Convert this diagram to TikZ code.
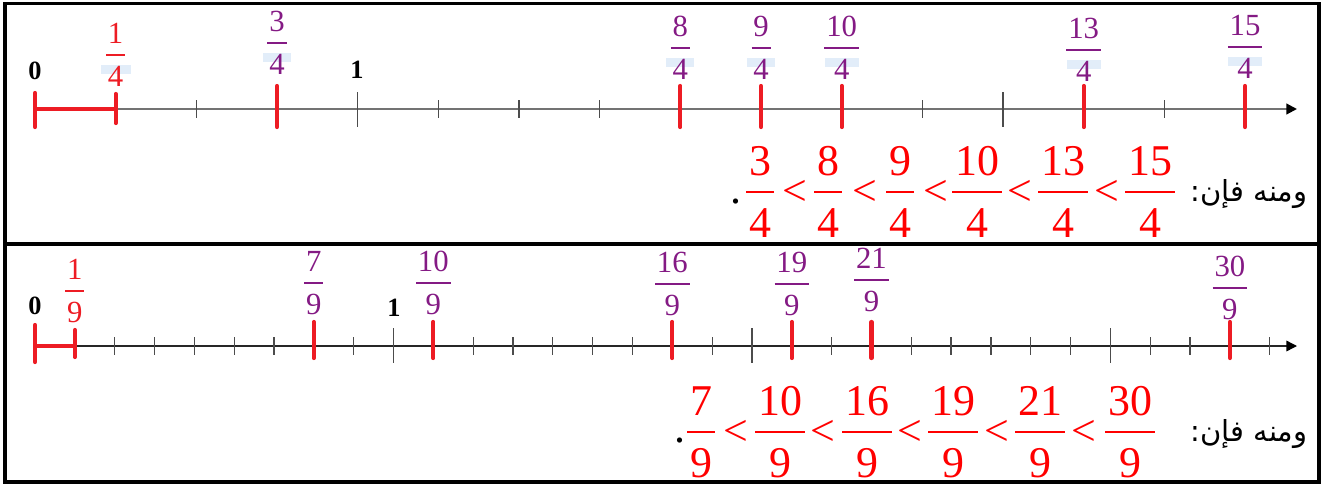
\documentclass[tikz,border=0pt]{standalone}
\usepackage{fontspec}
\setmainfont{Liberation Serif}
\newfontfamily\arabicfont[Script=Arabic]{DejaVu Sans}
\TeXXeTstate=1
\usetikzlibrary{arrows.meta, positioning}
\definecolor{cred}{HTML}{ED1C24}
\definecolor{cpurple}{HTML}{841A84}
\definecolor{caxis}{HTML}{737373}
\definecolor{chl}{HTML}{E2EDF9}
\newcommand\fr[2]{{\setlength\arrayrulewidth{.05em}%
  \begin{tabular}{@{\hspace{.06em}}c@{\hspace{.06em}}}#1\\\hline\rule{0pt}{1em}#2\end{tabular}}}
\tikzset{
  frame/.style={draw=black, line width=2pt},
  axis/.style={draw=caxis, line width=1.2pt, -{Triangle[length=6pt, width=6pt, color=black]}},
  axisb/.style={axis, draw=black!85, line width=.8pt},
  tick/.style={draw=black!70, line width=.7pt},
  redtick/.style={draw=cred, line width=2.4pt, line cap=round},
  unit/.style={draw=cred, line width=2.6pt},
  lbl/.style={inner sep=0, font=\fontsize{17.5}{21}\selectfont, text=cpurple},
  big/.style={inner sep=0, font=\fontsize{25}{30}\selectfont, text=red},
  num/.style={inner sep=0, font=\fontsize{15}{18}\selectfont\bfseries},
  ar/.style={inner sep=0, font=\arabicfont\fontsize{16.5}{20}\selectfont},
  hl/.style={fill=chl},
}
\begin{document}
\begin{tikzpicture}[x=0.02cm, y=-0.02cm]
  \useasboundingbox (0,0) rectangle (1323,484);
  \draw[frame] (5,3.5) rectangle (1319,244);
  \draw[frame] (5,244) rectangle (1319,482);

  % quarters
  \coordinate (o1) at (35,109);
  \coordinate (e1) at (1297,109);
  \foreach \k/\bary/\w in {1/55/15, 3/43/14, 8/48/14, 9/48/14, 10/48/17, 13/50/17, 15/47/17}
    \fill[hl] (35+\k*80.67-\w, \bary+10) rectangle (35+\k*80.67+\w, \bary+19);
  \draw[axis] (o1) -- (e1);
  \foreach \k in {1,...,14}
    \draw[tick] (35+\k*80.67, 100) -- ++(0,18);
  \foreach \k in {4,8,12}
    \draw[tick] (35+\k*80.67, 92) -- ++(0,35);
  \draw[unit] (o1) -- (115.67,109);
  \draw[redtick] (35,93) -- (35,127);
  \draw[redtick] (115.67,94) -- (115.67,123);
  \foreach \k in {3,8,9,10,13,15}
    \draw[redtick] (35+\k*80.67, 86) -- ++(0,41);
  \node[num] (z1) at (35,70.5) {0};
  \node[num] (u1) at (357,70) {1};
  \foreach \k/\bary/\col in {1/55/cred, 3/43/cpurple, 8/48/cpurple, 9/48/cpurple, 10/48/cpurple, 13/50/cpurple, 15/47/cpurple}
    \node[lbl, text=\col] (q\k) at (35+\k*80.67, \bary+2.5) {\fr{\k}{4}};

  \foreach \n/\x in {3/760, 8/828, 9/900, 10/977, 13/1063, 15/1150}
    \node[big] (t\n) at (\x,195.5) {\fr{\n}{4}};
  \foreach \x [count=\i] in {795, 865, 936, 1020, 1107}
    \node[big] (lt\i) at (\x,193) {<};
  \node[big, text=black] (pt1) at (736,202) {.};
  \node[ar] (ar1) at (1249,194) {\beginR ومنه فإن:\endR};

  % ninths
  \coordinate (o2) at (35,346);
  \coordinate (e2) at (1297,346);
  \draw[axisb] (o2) -- (e2);
  \foreach \k in {1,...,31}
    \draw[tick] (35+\k*39.83, 337) -- ++(0,18);
  \foreach \k in {9,18,27}
    \draw[tick] (35+\k*39.83, 328) -- ++(0,35);
  \draw[unit] (o2) -- (74.83,346);
  \draw[redtick] (35,325) -- (35,362);
  \draw[redtick] (74.83,330) -- (74.83,357);
  \foreach \k in {7,10,16,19,21,30}
    \draw[redtick] (35+\k*39.83, 322) -- ++(0,36);
  \node[num] (z2) at (35,306) {0};
  \node[num] (u2) at (394,308) {1};
  \foreach \k/\bary/\col in {1/291/cred, 7/283/cpurple, 10/283/cpurple, 16/284/cpurple, 19/284/cpurple, 21/280/cpurple, 30/288/cpurple}
    \node[lbl, text=\col] (n\k) at (35+\k*39.83, \bary+2.5) {\fr{\k}{9}};

  \foreach \n/\x in {7/701, 10/780, 16/867, 19/953, 21/1040, 30/1130}
    \node[big] (b\n) at (\x,435.5) {\fr{\n}{9}};
  \foreach \x [count=\i] in {736, 823, 910, 997, 1084}
    \node[big] (lb\i) at (\x,433) {<};
  \node[big, text=black] (pt2) at (680,441) {.};
  \node[ar] (ar2) at (1249,434) {\beginR ومنه فإن:\endR};
\end{tikzpicture}
\end{document}
